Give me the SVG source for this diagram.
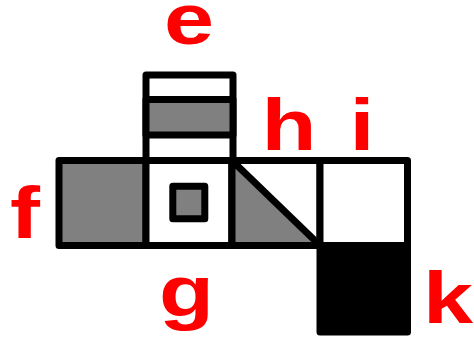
<svg xmlns="http://www.w3.org/2000/svg" width="474" height="337" viewBox="0 0 474 337">
<style>
.c{stroke:#000;stroke-width:7;stroke-linejoin:round;stroke-linecap:round}
.w{fill:#fff}
.g{fill:#808080}
.b{fill:#000}
.lbl{font-family:"Liberation Sans",Arial,sans-serif;font-weight:bold;font-size:72px;fill:#ff0000;text-anchor:middle}
</style>
<rect width="474" height="337" fill="#fff"/>
<g id="e">
<rect class="c w" x="146" y="75" width="87" height="85.5"/>
<rect class="c g" x="146" y="99.5" width="87" height="35.5"/>
</g>
<g id="f">
<rect class="c g" x="59" y="160.5" width="87" height="85"/>
</g>
<g id="g">
<rect class="c w" x="146" y="160.5" width="86" height="85"/>
<rect class="c g" x="172.8" y="186.3" width="32" height="32.5"/>
</g>
<g id="h">
<rect class="c w" x="232" y="160.5" width="88" height="85"/>
<polygon class="c g" points="232,160.5 232,245.5 320,245.5"/>
</g>
<g id="i">
<rect class="c w" x="320" y="160.5" width="87.5" height="85"/>
</g>
<g id="k">
<rect class="c b" x="320" y="245.5" width="87.5" height="86.5"/>
</g>
<g id="labels">
<text class="lbl" transform="translate(189,44) scale(1.25,1)">e</text>
<text class="lbl" transform="translate(25,238) scale(1.25,1)">f</text>
<text class="lbl" transform="translate(186.5,316) scale(1.25,1)">g</text>
<text class="lbl" transform="translate(289,150) scale(1.25,1)">h</text>
<text class="lbl" transform="translate(362,150) scale(1.25,1)">i</text>
<text class="lbl" transform="translate(448,323) scale(1.25,1)">k</text>
</g>
</svg>
